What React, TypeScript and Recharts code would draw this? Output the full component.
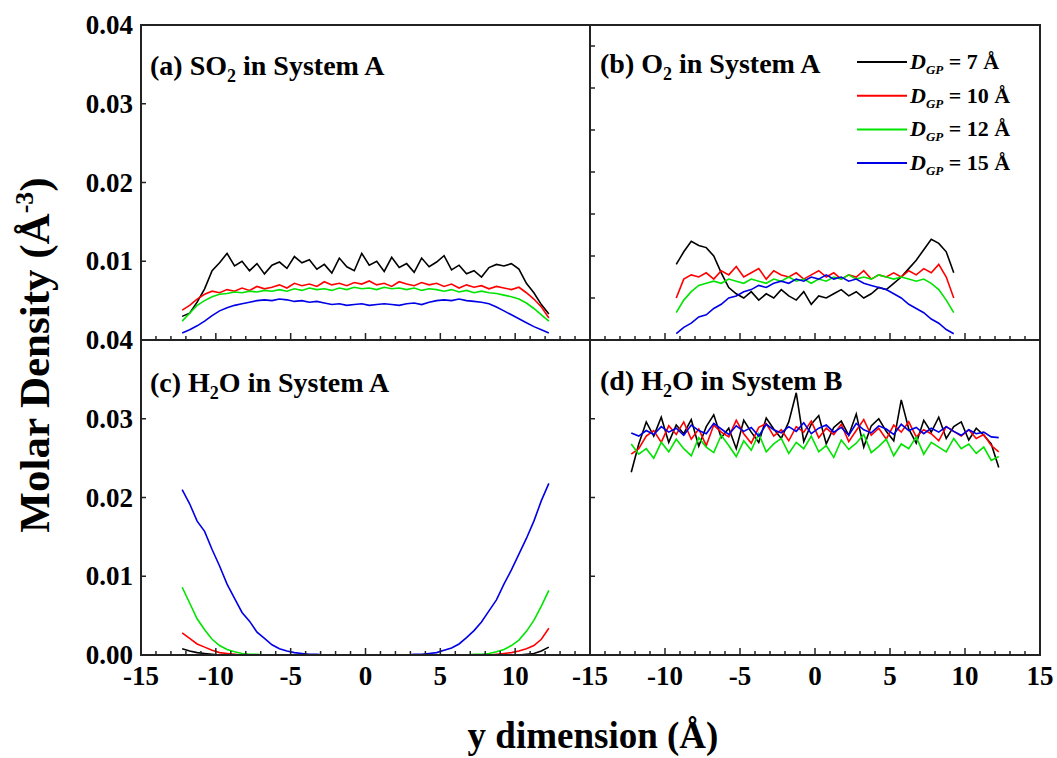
import { LineChart, Line, XAxis, YAxis, Legend } from "recharts";

const W = 1057;
const H = 758;
const FONT = '"Liberation Serif", "Times New Roman", serif';

// y positions (Å) of the sampled bins
const xWide = [
  -12.25, -11.75, -11.25, -10.75, -10.25, -9.75, -9.25, -8.75, -8.25, -7.75,
  -7.25, -6.75, -6.25, -5.75, -5.25, -4.75, -4.25, -3.75, -3.25, -2.75,
  -2.25, -1.75, -1.25, -0.75, -0.25, 0.25, 0.75, 1.25, 1.75, 2.25,
  2.75, 3.25, 3.75, 4.25, 4.75, 5.25, 5.75, 6.25, 6.75, 7.25,
  7.75, 8.25, 8.75, 9.25, 9.75, 10.25, 10.75, 11.25, 11.75, 12.25,
];
const xNarrow = [
  -9.25, -8.75, -8.25, -7.75, -7.25, -6.75, -6.25, -5.75, -5.25, -4.75,
  -4.25, -3.75, -3.25, -2.75, -2.25, -1.75, -1.25, -0.75, -0.25, 0.25,
  0.75, 1.25, 1.75, 2.25, 2.75, 3.25, 3.75, 4.25, 4.75, 5.25,
  5.75, 6.25, 6.75, 7.25, 7.75, 8.25, 8.75, 9.25,
];

// molar densities, in units of 1e-4 Å^-3
// (a) SO2 in system A
const so2_7 = [
  30, 34, 48, 65, 88, 98, 110, 94, 100, 88, 97, 84, 95, 99, 91, 106, 98, 102, 90, 96,
  85, 104, 93, 88, 110, 95, 100, 87, 105, 92, 97, 86, 104, 93, 99, 107, 89, 95, 84, 88,
  80, 92, 96, 94, 97, 90, 72, 60, 45, 33,
];
const so2_10 = [
  38, 44, 52, 58, 62, 60, 64, 62, 66, 63, 68, 65, 67, 70, 66, 72, 69, 71, 68, 74,
  70, 72, 69, 73, 71, 75, 70, 72, 68, 74, 71, 69, 73, 70, 72, 68, 71, 66, 70, 67,
  69, 65, 68, 66, 64, 67, 60, 52, 42, 28,
];
const so2_12 = [
  24, 34, 44, 50, 55, 58, 59, 61, 60, 62, 61, 63, 62, 64, 62, 65, 63, 66, 64, 65,
  63, 66, 64, 67, 65, 66, 64, 67, 65, 66, 64, 66, 63, 65, 64, 62, 64, 61, 63, 60,
  62, 60, 59, 57, 55, 52, 47, 40, 32, 24,
];
const so2_15 = [
  9, 13, 18, 24, 31, 37, 41, 44, 46, 48, 50, 51, 50, 52, 51, 49, 50, 48, 49, 47,
  45, 46, 44, 45, 46, 44, 45, 46, 45, 44, 46, 47, 45, 48, 50, 51, 50, 52, 50, 49,
  48, 46, 42, 37, 32, 27, 22, 17, 13, 9,
];

// (b) O2 in system A
const o2_7 = [
  36, 42, 47, 45, 44, 40, 32, 25, 22, 20, 23, 19, 22, 20, 24, 21, 19, 23, 17, 21,
  20, 22, 24, 21, 23, 20, 22, 25, 24, 27, 30, 34, 38, 43, 48, 46, 42, 32,
];
const o2_10 = [
  20, 29, 31, 30, 32, 29, 33, 31, 35, 30, 32, 34, 29, 33, 31, 30, 32, 29, 31, 33,
  30, 32, 29, 31, 30, 33, 29, 31, 30, 32, 30, 33, 31, 34, 32, 36, 30, 20,
];
const o2_12 = [
  13, 19, 23, 26, 27, 28, 27, 29, 28, 27, 29, 28, 27, 29, 28, 30, 28, 29, 27, 29,
  28, 30, 29, 31, 29, 30, 29, 31, 30, 29, 30, 29, 28, 29, 27, 24, 19, 13,
];
const o2_15 = [
  3, 6, 8, 11, 12, 15, 17, 20, 21, 23, 24, 26, 25, 27, 28, 27, 29, 28, 30, 29,
  31, 29, 30, 28, 29, 27, 26, 25, 24, 22, 20, 17, 15, 13, 10, 8, 5, 3,
];

// (c) H2O in system A
const h2oA_7 = [
  8, 5, 3, 2, 1, 0, 0, 0, 0, 0, 0, 0, 0, 0, 0, 0, 0, 0, 0, 0,
  0, 0, 0, 0, 0, 0, 0, 0, 0, 0, 0, 0, 0, 0, 0, 0, 0, 0, 0, 0,
  0, 0, 0, 0, 0, 0, 1, 2, 5, 10,
];
const h2oA_10 = [
  28, 21, 14, 10, 6, 3, 2, 1, 0, 0, 0, 0, 0, 0, 0, 0, 0, 0, 0, 0,
  0, 0, 0, 0, 0, 0, 0, 0, 0, 0, 0, 0, 0, 0, 0, 0, 0, 0, 0, 0,
  0, 0, 1, 2, 3, 5, 8, 12, 20, 34,
];
const h2oA_12 = [
  86, 66, 46, 32, 20, 12, 7, 4, 2, 1, 1, 0, 0, 0, 0, 0, 0, 0, 0, 0,
  0, 0, 0, 0, 0, 0, 0, 0, 0, 0, 0, 0, 0, 0, 0, 0, 0, 0, 0, 1,
  1, 2, 4, 7, 12, 19, 30, 44, 62, 82,
];
const h2oA_15 = [
  210, 192, 170, 157, 134, 113, 90, 72, 54, 43, 29, 21, 13, 8, 5, 3, 2, 1, 1, 0,
  0, 0, 0, 0, 0, 0, 0, 0, 0, 0, 0, 1, 1, 2, 3, 6, 9, 14, 22, 31,
  42, 56, 70, 90, 108, 128, 148, 170, 196, 218,
];

// (d) H2O in system B
const h2oB_7 = [
  232, 268, 296, 278, 302, 270, 292, 281, 299, 265, 290, 305, 276, 288, 262, 298, 283, 270, 301, 287,
  275, 296, 333, 271, 293, 304, 268, 289, 297, 279, 306, 264, 291, 300, 284, 272, 324, 287, 269, 298,
  283, 302, 275, 290, 296, 273, 288, 279, 268, 238,
];
const h2oB_10 = [
  255, 262, 278, 285, 270, 291, 280, 296, 274, 287, 266, 292, 283, 277, 298, 281, 269, 289, 294, 278,
  286, 272, 290, 283, 297, 276, 288, 280, 293, 271, 285, 299, 279, 288, 274, 292, 283, 296, 277, 286,
  281, 272, 290, 284, 278, 286, 275, 280, 266, 258,
];
const h2oB_12 = [
  268, 255, 262, 250, 270, 258, 274, 262, 253, 276, 264, 257, 279, 266, 252, 272, 260, 281, 258, 268,
  275, 256, 270, 262, 278, 258, 266, 251, 273, 261, 269, 280, 257, 265, 274, 253, 268, 262, 277, 255,
  270, 264, 258, 275, 262, 268, 256, 264, 247, 252,
];
const h2oB_15 = [
  282, 278, 285, 280, 290, 283, 288, 279, 292, 285, 281, 294, 287, 280, 291, 284, 289, 278, 293, 286,
  282, 290, 284, 295, 281, 288, 292, 283, 289, 279, 294, 286, 282, 291, 287, 280, 293, 285, 289, 281,
  288, 283, 290, 284, 279, 286, 281, 283, 277, 276,
];

const gapLabels = ["7", "10", "12", "15"];
const seriesColors = ["#000000", "#ff0000", "#00e400", "#0000e6"];
const xTicks = [
  -15, -14, -13, -12, -11, -10, -9, -8, -7, -6, -5, -4, -3, -2, -1, 0,
  1, 2, 3, 4, 5, 6, 7, 8, 9, 10, 11, 12, 13, 14, 15,
];
const yTicksMain = [0, 0.01, 0.02, 0.03, 0.04];
const yTicksO2 = [0.002, 0.004, 0.006, 0.008, 0.01, 0.012, 0.014];

const KEYS = ["d7", "d10", "d12", "d15"];

function toRows(xs: number[], cols: number[][]) {
  return xs.map((x, i) => {
    const row: Record<string, number> = { x };
    KEYS.forEach((k, j) => (row[k] = cols[j][i] / 1e4));
    return row;
  });
}

const rowsA = toRows(xWide, [so2_7, so2_10, so2_12, so2_15]);
const rowsB = toRows(xNarrow, [o2_7, o2_10, o2_12, o2_15]);
const rowsC = toRows(xWide, [h2oA_7, h2oA_10, h2oA_12, h2oA_15]);
const rowsD = toRows(xWide, [h2oB_7, h2oB_10, h2oB_12, h2oB_15]);

type Box = { left: number; top: number; right: number; bottom: number };

const textStyle = { fontFamily: FONT, fontWeight: 700, fill: "#000" } as const;

function XTick(props: any) {
  const { x, y, payload, labelled } = props;
  const v = payload.value as number;
  const major = v % 5 === 0;
  return (
    <g>
      {Math.abs(v) < 15 && (
        <line x1={x} x2={x} y1={y} y2={y - (major ? 7 : 4)} stroke="#222" strokeWidth={1.5} />
      )}
      {major && labelled(v) && (
        <text x={x} y={y + 30} textAnchor="middle" fontSize={27} {...textStyle}>
          {v}
        </text>
      )}
    </g>
  );
}

function YTick(props: any) {
  const { x, y, payload, labelled, mark } = props;
  const v = payload.value as number;
  return (
    <g>
      {mark(v) && <line x1={x} x2={x + 5} y1={y} y2={y} stroke="#222" strokeWidth={1.5} />}
      {labelled(v) && (
        <text x={x - 8} y={y + 9} textAnchor="end" fontSize={27} {...textStyle}>
          {v.toFixed(2)}
        </text>
      )}
    </g>
  );
}

function LegendBox({ payload }: any) {
  const items = [...(payload || [])].sort(
    (a: any, b: any) => gapLabels.indexOf(a.value) - gapLabels.indexOf(b.value)
  );
  return (
    <svg width={190} height={140}>
      {items.map((p: any, i: number) => {
        const ly = 22 + i * 33.7;
        return (
          <g key={p.value}>
            <line x1={9} x2={59} y1={ly} y2={ly} stroke={p.color} strokeWidth={2} />
            <text x={62} y={ly + 7} fontSize={22} {...textStyle}>
              <tspan fontStyle="italic">D</tspan>
              <tspan fontStyle="italic" fontSize={13} dy={5}>GP</tspan>
              <tspan dy={-5}>{` = ${p.value} Å`}</tspan>
            </text>
          </g>
        );
      })}
    </svg>
  );
}

interface PanelProps {
  rows: Record<string, number>[];
  box: Box;
  domain: [number, number];
  yTicks: number[];
  yLabel: (v: number) => boolean;
  yMark: (v: number) => boolean;
  xLabel: (v: number) => boolean;
  legend?: boolean;
}

function Panel({ rows, box, domain, yTicks, yLabel, yMark, xLabel, legend }: PanelProps) {
  // axes are 1px thick so they still render; the margins absorb that pixel
  return (
    <div style={{ position: "absolute", left: 0, top: 0 }}>
      <LineChart
        width={W}
        height={H}
        data={rows}
        margin={{ top: box.top, left: box.left - 1, right: W - box.right, bottom: H - box.bottom - 1 }}
      >
        <XAxis
          type="number"
          dataKey="x"
          domain={[-15, 15]}
          ticks={xTicks}
          interval={0}
          height={1}
          axisLine={false}
          tickLine={false}
          tickSize={0}
          tickMargin={0}
          allowDataOverflow
          tick={(p: any) => <XTick {...p} labelled={xLabel} />}
        />
        <YAxis
          type="number"
          domain={domain}
          ticks={yTicks}
          interval={0}
          width={1}
          axisLine={false}
          tickLine={false}
          tickSize={0}
          tickMargin={0}
          allowDataOverflow
          tick={(p: any) => <YTick {...p} labelled={yLabel} mark={yMark} />}
        />
        {KEYS.map((k, i) => (
          <Line
            key={k}
            type="linear"
            dataKey={k}
            name={gapLabels[i]}
            stroke={seriesColors[i]}
            strokeWidth={1.6}
            dot={false}
            activeDot={false}
            isAnimationActive={false}
          />
        ))}
        {legend && (
          <Legend
            layout="vertical"
            align="center"
            verticalAlign="middle"
            content={<LegendBox />}
            wrapperStyle={{ left: 848, top: 40, width: 190, height: 140 }}
          />
        )}
      </LineChart>
    </div>
  );
}

const none = () => false;
const inner = (v: number) => v > 0 && v < 0.04;

export default function App() {
  const L = 141, M = 590, R = 1040, T = 25, C = 340, B = 655;
  return (
    <div style={{ position: "absolute", left: 0, top: 0, width: W, height: H, background: "#fff" }}>
      <Panel
        rows={rowsA}
        box={{ left: L, top: T, right: M, bottom: C }}
        domain={[0, 0.04]}
        yTicks={[0.01, 0.02, 0.03, 0.04]}
        yLabel={() => true}
        yMark={inner}
        xLabel={none}
      />
      <Panel
        rows={rowsB}
        box={{ left: M, top: T, right: R, bottom: C }}
        domain={[0, 0.015]}
        yTicks={yTicksO2}
        yLabel={none}
        yMark={() => true}
        xLabel={none}
        legend
      />
      <Panel
        rows={rowsC}
        box={{ left: L, top: C, right: M, bottom: B }}
        domain={[0, 0.04]}
        yTicks={yTicksMain}
        yLabel={() => true}
        yMark={inner}
        xLabel={(v) => v < 15}
      />
      <Panel
        rows={rowsD}
        box={{ left: M, top: C, right: R, bottom: B }}
        domain={[0, 0.04]}
        yTicks={yTicksMain}
        yLabel={none}
        yMark={inner}
        xLabel={() => true}
      />
      <svg width={W} height={H} style={{ position: "absolute", left: 0, top: 0, pointerEvents: "none" }}>
        <rect x={L} y={T} width={R - L} height={B - T} fill="none" stroke="#222" strokeWidth={2} />
        <line x1={L} x2={R} y1={C} y2={C} stroke="#222" strokeWidth={2} />
        <line x1={M} x2={M} y1={T} y2={B} stroke="#222" strokeWidth={2} />

        <text x={150} y={75} fontSize={28} {...textStyle}>
          (a) SO<tspan fontSize={18} dy={7}>2</tspan>
          <tspan dy={-7}> in System A</tspan>
        </text>
        <text x={600} y={73} fontSize={28} {...textStyle}>
          (b) O<tspan fontSize={18} dy={7}>2</tspan>
          <tspan dy={-7}> in System A</tspan>
        </text>
        <text x={150} y={392} fontSize={28} {...textStyle}>
          (c) H<tspan fontSize={18} dy={7}>2</tspan>
          <tspan dy={-7}>O in System A</tspan>
        </text>
        <text x={600} y={390} fontSize={28} {...textStyle}>
          (d) H<tspan fontSize={18} dy={7}>2</tspan>
          <tspan dy={-7}>O in System B</tspan>
        </text>

        <text x={593} y={748} fontSize={37} textAnchor="middle" {...textStyle}>
          y dimension (Å)
        </text>
        <text
          x={49}
          y={355}
          fontSize={43}
          textAnchor="middle"
          transform="rotate(-90 49 355)"
          {...textStyle}
        >
          Molar Density (Å<tspan fontSize={26} dy={-16}>-3</tspan>
          <tspan dy={16}>)</tspan>
        </text>
      </svg>
    </div>
  );
}
